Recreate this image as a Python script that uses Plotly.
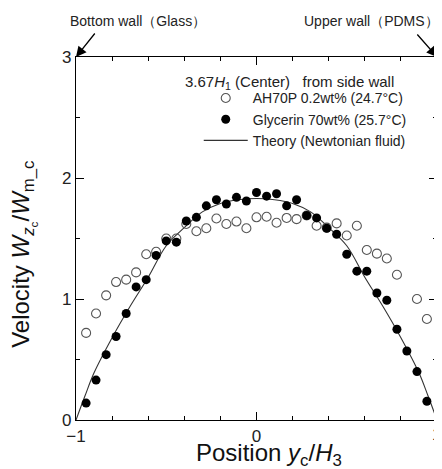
import plotly.graph_objects as go

# 位置 (y_c/H_3)
pos = [-0.944, -0.889, -0.833, -0.778, -0.722, -0.667, -0.611, -0.556, -0.5, -0.444,
       -0.389, -0.333, -0.278, -0.222, -0.167, -0.111, -0.056, 0.0, 0.056, 0.111,
       0.167, 0.222, 0.278, 0.333, 0.389, 0.444, 0.5, 0.556, 0.611, 0.667,
       0.722, 0.778, 0.833, 0.889, 0.944]

# Glycerin 70wt%
glycerin = [0.14, 0.33, 0.54, 0.69, 0.88, 1.10, 1.16, 1.36, 1.48, 1.47,
            1.645, 1.675, 1.77, 1.82, 1.785, 1.84, 1.81, 1.88, 1.85, 1.87,
            1.77, 1.82, 1.69, 1.67, 1.585, 1.535, 1.37, 1.23, 1.23, 1.05,
            0.99, 0.75, 0.57, 0.40, 0.155]

# AH70P 0.2wt%
pos_ah = [-0.944, -0.889, -0.833, -0.778, -0.722, -0.667, -0.611, -0.556, -0.5, -0.444,
          -0.389, -0.333, -0.278, -0.222, -0.167, -0.111, -0.056, 0.0, 0.056, 0.111,
          0.167, 0.222, 0.278, 0.333, 0.389, 0.444, 0.5, 0.556, 0.611, 0.667,
          0.722, 0.778, 0.889, 0.944]
ah70p = [0.72, 0.88, 1.03, 1.14, 1.16, 1.22, 1.37, 1.39, 1.50, 1.50,
         1.62, 1.56, 1.585, 1.665, 1.62, 1.64, 1.585, 1.675, 1.68, 1.63,
         1.67, 1.66, 1.69, 1.605, 1.59, 1.625, 1.525, 1.605, 1.405, 1.375,
         1.335, 1.20, 1.0, 0.835]

# 理论曲线 (Newtonian)
theory_x = [-1.0, -0.95, -0.9, -0.8, -0.7, -0.6, -0.5, -0.4, -0.3, -0.2, -0.1, 0.0,
            0.1, 0.2, 0.3, 0.4, 0.5, 0.6, 0.7, 0.8, 0.9, 0.95, 1.0]
theory_y = [0.0, 0.20, 0.39, 0.68, 0.94, 1.18, 1.44, 1.59, 1.72, 1.79, 1.82, 1.83,
            1.82, 1.79, 1.72, 1.59, 1.44, 1.18, 0.94, 0.68, 0.39, 0.20, 0.0]

x_ticks = [-1, 0, 1]
x_ticktext = ['−1', '0', '1']
y_ticks = [0, 1, 2, 3]

FONT = "Liberation Sans, Arial, sans-serif"

fig = go.Figure()

fig.add_trace(go.Scatter(x=theory_x, y=theory_y, mode='lines', line_shape='spline',
                         line=dict(color='#333333', width=1.1), legendrank=3,
                         name='Theory (Newtonian fluid)'))
fig.add_trace(go.Scatter(x=pos_ah, y=ah70p, mode='markers', legendrank=1,
                         marker=dict(symbol='circle-open', size=9, color='#555555',
                                     line=dict(width=1.1, color='#555555')),
                         name='AH70P 0.2wt% (24.7°C)'))
fig.add_trace(go.Scatter(x=pos, y=glycerin, mode='markers', legendrank=2,
                         marker=dict(symbol='circle', size=9, color='black'),
                         name='Glycerin 70wt% (25.7°C)'))

axis_common = dict(showline=True, linecolor='black', linewidth=1.2, mirror='allticks',
                   ticks='inside', ticklen=8, tickwidth=1, tickcolor='black',
                   showgrid=False, zeroline=False, automargin=False,
                   tickfont=dict(family=FONT, size=17, color='#222222'))

# 页面 body 有 8px 边距，所以图整体缩小 8px
fig.update_layout(
    width=434, height=461,
    margin=dict(l=68, r=5, t=49, b=49),
    plot_bgcolor='white', paper_bgcolor='white',
    font=dict(family=FONT, color='#222222'),
    showlegend=True,
    legend=dict(x=0.34, y=0.93, xanchor='left', yanchor='top',
                bgcolor='rgba(0,0,0,0)',
                font=dict(family=FONT, size=14, color='#222222'),
                itemwidth=44, tracegroupgap=0),
    # 右端的 "1" 会被 plotly 隐藏，用注释补上
    xaxis=dict(range=[-1, 1], tickvals=x_ticks, ticktext=x_ticktext[:-1] + [''],
               minor=dict(dtick=0.2, tick0=-1, ticks='inside', ticklen=4, tickcolor='black'),
               **axis_common),
    yaxis=dict(range=[0, 3], tickvals=y_ticks,
               minor=dict(dtick=0.5, tick0=0, ticks='inside', ticklen=4, tickcolor='black'),
               **axis_common),
)

fig.add_annotation(x=x_ticks[-1], y=0, xref='x', yref='y', yanchor='top', yshift=-3, xshift=-1,
                   text=x_ticktext[-1], showarrow=False,
                   font=dict(family=FONT, size=17, color='#222222'))

# 坐标轴标题
fig.add_annotation(x=0.535, y=-0.096, xref='paper', yref='paper', xanchor='center', yanchor='middle',
                   text='Position <i>y</i><sub>c</sub>/<i>H</i><sub>3</sub>', showarrow=False,
                   font=dict(family=FONT, size=24, color='#111111'))
fig.add_annotation(x=-0.144, y=0.455, xref='paper', yref='paper', xanchor='center', yanchor='middle',
                   textangle=-90,
                   text='Velocity <i>W</i><sub><i>z</i><sub>c</sub></sub>/<i>W</i><sub>m_c</sub>',
                   showarrow=False, font=dict(family=FONT, size=24, color='#111111'))

# 图例标题
fig.add_annotation(x=0.297, y=0.93, xref='paper', yref='paper', xanchor='left', yanchor='middle',
                   text='3.67<i>H</i><sub>1</sub> (Center)   from side wall', showarrow=False,
                   font=dict(family=FONT, size=15, color='#222222'))

# 壁面标注
fig.add_annotation(x=0.0, y=1.0, xref='paper', yref='paper', text='', showarrow=True,
                   ax=20, ay=-25, arrowhead=2, arrowsize=1.6, arrowwidth=1.3, arrowcolor='black')
fig.add_annotation(x=1.0, y=1.0, xref='paper', yref='paper', text='', showarrow=True,
                   ax=-21, ay=-24, arrowhead=2, arrowsize=1.6, arrowwidth=1.3, arrowcolor='black')
fig.add_annotation(x=-0.022, y=1.099, xref='paper', yref='paper', xanchor='left', yanchor='middle',
                   text='Bottom wall（Glass）', showarrow=False,
                   font=dict(family=FONT, size=14, color='#222222'))
fig.add_annotation(x=1.011, y=1.099, xref='paper', yref='paper', xanchor='right', yanchor='middle',
                   text='Upper wall（PDMS）', showarrow=False,
                   font=dict(family=FONT, size=14, color='#222222'))

# 页面高度超出窗口时不出现滚动条
fig.write_html("out.html", post_script="document.body.style.overflow='hidden';")
